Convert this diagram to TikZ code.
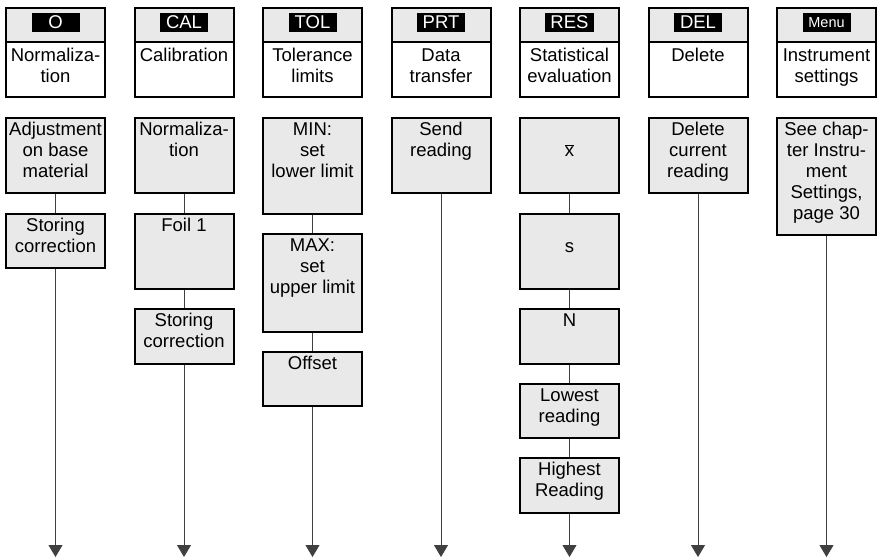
\documentclass[tikz,border=0pt]{standalone}
\usepackage{fontspec}
\setmainfont{Liberation Sans}
\usetikzlibrary{positioning,arrows.meta}

\newcommand{\mnufont}{\fontsize{18.5pt}{21pt}\selectfont}
\newcommand{\mnutxt}[3]{%
  % Box text: #1=box height, #2=first line strut, #3=lines
  \parbox[t][#1][t]{99pt}{\centering\rule{0pt}{#2}#3}%
}

\tikzset{
  mnuhead/.style={draw, line width=2pt, fill=gray!17, anchor=north,
    inner sep=0pt, minimum width=99pt, minimum height=34pt},
  mnutitle/.style={draw, line width=2pt, fill=white, anchor=north, inner sep=0pt},
  mnukey/.style={fill=black, text=white, inner xsep=5pt, inner ysep=0pt,
    minimum width=48pt, minimum height=19pt},
  mnustep/.style={draw, line width=2pt, fill=gray!17, anchor=north, inner sep=0pt},
  mnulink/.style={draw=black!75, line width=0.9pt},
  mnuflow/.style={mnulink, -{Triangle[width=14pt,length=12pt]}},
}

\begin{document}
\begin{tikzpicture}[x=1pt, y=1pt, font=\mnufont]

\useasboundingbox (0,0) rectangle (877,-558);

% ================================================================
% Menu heads (columns: first centre 55.5pt, pitch 128.5pt)
% ================================================================
\foreach \k/\ttl [count=\i] in {O/{Normaliza-\\tion}, CAL/Calibration,
    TOL/{Tolerance\\limits}, PRT/{Data\\transfer}, RES/{Statistical\\evaluation},
    DEL/Delete, {\fontsize{14.5pt}{16pt}\selectfont Menu}/{Instrument\\settings}} {
  \node[mnuhead] (hd\i) at ({55.5+(\i-1)*128.5}, -7) {};
  \node[mnutitle] (tt\i) at ([yshift=2pt]hd\i.south) {\mnutxt{55pt}{19pt}{\ttl}};
  \node[mnukey] (ky\i) at ([yshift=2.5pt]hd\i.center) {\k};
}

% ================================================================
% O: normalization
% ================================================================
\node[mnustep] (o1) at (55.5,-117) {\mnutxt{75pt}{17pt}{Adjustment\\on base\\material}};
\node[mnustep, below=19pt of o1] (o2) {\mnutxt{54pt}{17pt}{Storing\\correction}};
\draw[mnulink] (o1.south) -- (o2.north);

% ================================================================
% CAL: calibration
% ================================================================
\node[mnustep] (c1) at (184,-117) {\mnutxt{75pt}{17pt}{Normaliza-\\tion}};
\node[mnustep, below=19pt of c1] (c2) {\mnutxt{75pt}{17pt}{Foil 1}};
\node[mnustep, below=18pt of c2] (c3) {\mnutxt{55pt}{17pt}{Storing\\correction}};
\draw[mnulink] (c1.south) -- (c2.north);
\draw[mnulink] (c2.south) -- (c3.north);

% ================================================================
% TOL: tolerance limits
% ================================================================
\node[mnustep] (t1) at (312.5,-117) {\mnutxt{96pt}{17pt}{MIN:\\set\\lower limit}};
\node[mnustep, below=18pt of t1] (t2) {\mnutxt{98pt}{17pt}{MAX:\\set\\upper limit}};
\node[mnustep, below=18pt of t2] (t3) {\mnutxt{54pt}{17pt}{Offset}};
\draw[mnulink] (t1.south) -- (t2.north);
\draw[mnulink] (t2.south) -- (t3.north);

% ================================================================
% PRT: data transfer
% ================================================================
\node[mnustep] (p1) at (441,-117) {\mnutxt{75pt}{17pt}{Send\\reading}};

% ================================================================
% RES: statistical evaluation
% ================================================================
\node[mnustep] (r1) at (569.5,-117) {\mnutxt{75pt}{17pt}{\\$\overline{\mbox{x}}$}};
\node[mnustep, below=19pt of r1] (r2) {\mnutxt{75pt}{17pt}{\\s}};
\node[mnustep, below=18pt of r2] (r3) {\mnutxt{55pt}{17pt}{N}};
\node[mnustep, below=18pt of r3] (r4) {\mnutxt{54pt}{17pt}{Lowest\\reading}};
\node[mnustep, below=18pt of r4] (r5) {\mnutxt{55pt}{17pt}{Highest\\Reading}};
\foreach \a/\b in {r1/r2, r2/r3, r3/r4, r4/r5} {
  \draw[mnulink] (\a.south) -- (\b.north);
}

% ================================================================
% DEL: delete
% ================================================================
\node[mnustep] (d1) at (698,-117) {\mnutxt{75pt}{17pt}{Delete\\current\\reading}};

% ================================================================
% Menu: instrument settings
% ================================================================
\node[mnustep] (m1) at (826.5,-117) {\mnutxt{117pt}{17pt}{See chap-\\ter Instru-\\ment\\Settings,\\page 30}};

% ================================================================
% Exit arrows
% ================================================================
\foreach \last [count=\i] in {o2, c3, t3, p1, r5, d1, m1} {
  \coordinate (e\i) at ({55.5+(\i-1)*128.5}, -557);
  \draw[mnuflow] (\last.south) -- (e\i);
}

\end{tikzpicture}
\end{document}
